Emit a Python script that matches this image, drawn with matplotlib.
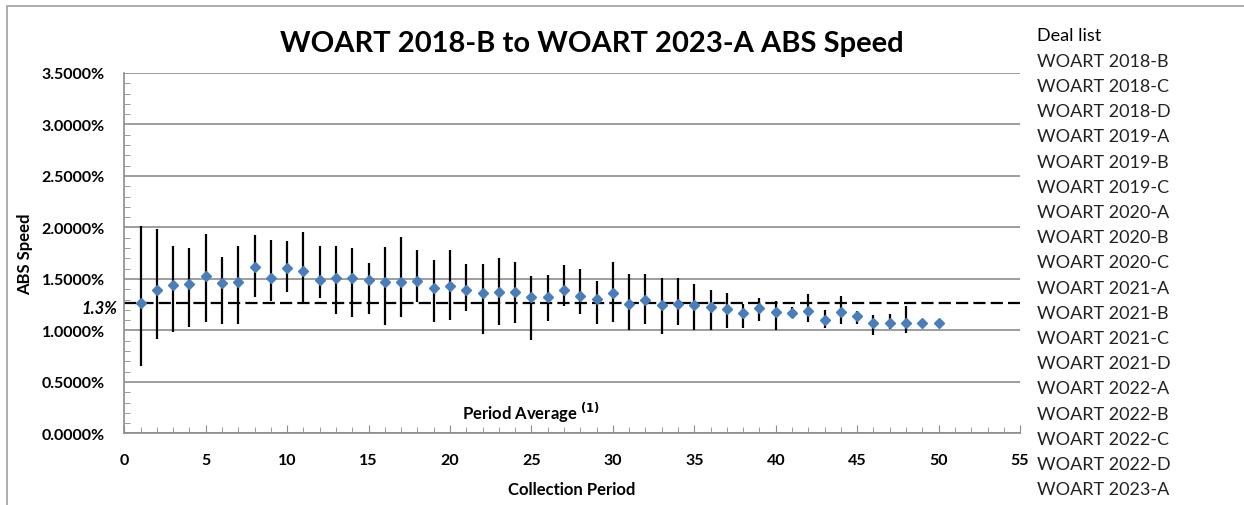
import matplotlib.pyplot as plt
from matplotlib.patches import Rectangle
from matplotlib.ticker import MultipleLocator, FuncFormatter
import numpy as np

plt.rcParams['font.family'] = ['Lato', 'DejaVu Sans']

# data (values in %)
period = np.arange(1, 51)
speed = [1.266, 1.395, 1.444, 1.454, 1.525, 1.463, 1.473, 1.616, 1.512, 1.606,
         1.580, 1.492, 1.512, 1.512, 1.492, 1.470, 1.470, 1.480, 1.412, 1.431,
         1.395, 1.360, 1.376, 1.376, 1.321, 1.321, 1.395, 1.334, 1.302, 1.366,
         1.253, 1.298, 1.250, 1.260, 1.250, 1.227, 1.211, 1.166, 1.221, 1.182,
         1.166, 1.191, 1.104, 1.182, 1.140, 1.075, 1.075, 1.075, 1.069, 1.075]
speed_max = [2.017, 1.985, 1.817, 1.797, 1.936, 1.710, 1.822, 1.926, 1.875, 1.868,
             1.958, 1.822, 1.822, 1.797, 1.654, 1.807, 1.910, 1.780, 1.683, 1.780,
             1.644, 1.644, 1.706, 1.664, 1.531, 1.541, 1.638, 1.596, 1.483, 1.667,
             1.551, 1.551, 1.509, 1.509, 1.448, 1.392, 1.363, 1.256, 1.315, 1.285,
             1.224, 1.353, 1.198, 1.331, 1.185, 1.150, 1.162, 1.234, 1.069, 1.075]
speed_min = [0.657, 0.917, 0.988, 1.036, 1.079, 1.059, 1.059, 1.324, 1.285, 1.370,
             1.266, 1.312, 1.159, 1.127, 1.159, 1.052, 1.133, 1.272, 1.085, 1.104,
             1.185, 0.965, 1.052, 1.069, 0.910, 1.094, 1.234, 1.159, 1.059, 1.078,
             1.007, 1.059, 0.965, 1.052, 1.007, 1.007, 1.023, 1.023, 1.094, 1.007,
             1.117, 1.085, 1.023, 1.059, 1.059, 0.955, 1.014, 0.975, 1.069, 1.075]
period_avg = 1.266

deals = ['WOART 2018-B', 'WOART 2018-C', 'WOART 2018-D', 'WOART 2019-A',
         'WOART 2019-B', 'WOART 2019-C', 'WOART 2020-A', 'WOART 2020-B',
         'WOART 2020-C', 'WOART 2021-A', 'WOART 2021-B', 'WOART 2021-C',
         'WOART 2021-D', 'WOART 2022-A', 'WOART 2022-B', 'WOART 2022-C',
         'WOART 2022-D', 'WOART 2023-A']

fig = plt.figure(figsize=(12.44, 5.06), dpi=100)
ax = fig.add_axes([0.0999, 0.1415, 0.7201, 0.7123])

# outer border of the chart area
fig.patches.append(Rectangle((0.0056, -0.02), 1.1, 1.006, transform=fig.transFigure,
                             fill=False, edgecolor='#a0a0a0', lw=1.2))

# period average dashed line
ax.plot([0, 55], [period_avg, period_avg], color='black', lw=1.6,
        linestyle=(0, (5.5, 2.3)), zorder=2)

# error bars (min/max) and mean markers
yerr = [np.array(speed) - np.array(speed_min), np.array(speed_max) - np.array(speed)]
ax.errorbar(period, speed, yerr=yerr, fmt='none', ecolor='black', elinewidth=1.6,
            capsize=0, zorder=3)
ax.plot(period, speed, linestyle='none', marker='D', markersize=5,
        color='#4a7ebb', zorder=4)

ax.set_xlim(0, 55)
ax.set_ylim(0, 3.5)
ax.xaxis.set_major_locator(MultipleLocator(5))
ax.xaxis.set_minor_locator(MultipleLocator(1))
ax.yaxis.set_major_locator(MultipleLocator(0.5))
ax.yaxis.set_minor_locator(MultipleLocator(0.1))
ax.yaxis.set_major_formatter(FuncFormatter(lambda v, p: f'{v:.4f}%'))

ax.grid(axis='y', which='major', color='#8c8c8c', lw=1.2)
ax.set_axisbelow(True)
for s in ['top', 'right']:
    ax.spines[s].set_visible(False)
for s in ['left', 'bottom']:
    ax.spines[s].set_color('#8c8c8c')
    ax.spines[s].set_linewidth(1.2)

ax.tick_params(axis='both', which='both', direction='in', color='#8c8c8c')
ax.tick_params(axis='y', which='major', length=0, pad=14, labelsize=11.5)
ax.tick_params(axis='y', which='minor', length=4)
ax.tick_params(axis='x', which='major', length=6, pad=14, labelsize=11.5)
ax.tick_params(axis='x', which='minor', length=4)
for lab in ax.get_xticklabels() + ax.get_yticklabels():
    lab.set_fontweight('bold')

ax.set_ylabel('ABS Speed', fontsize=12, fontweight='bold', labelpad=6)
ax.set_xlabel('Collection Period', fontsize=12, fontweight='bold', labelpad=10)
fig.text(0.476, 0.914, 'WOART 2018-B to WOART 2023-A ABS Speed', ha='center',
         va='center', fontsize=21, fontweight='bold')

ax.text(-0.4, period_avg - 0.05, '1.3%', ha='right', va='center', fontsize=12,
        fontweight='bold', style='italic')
ax.text(25.0, 0.21, r'Period Average $^{\mathbf{(1)}}$', ha='center', va='center',
        fontsize=12, fontweight='bold')

# deal list (legend text)
fig.text(0.8335, 0.928, 'Deal list', ha='left', va='center', fontsize=13)
for i, d in enumerate(deals):
    fig.text(0.8335, 0.878 - i * 0.0498, d, ha='left', va='center', fontsize=13,
             color='#222222')

plt.savefig('out.png', dpi=100)
